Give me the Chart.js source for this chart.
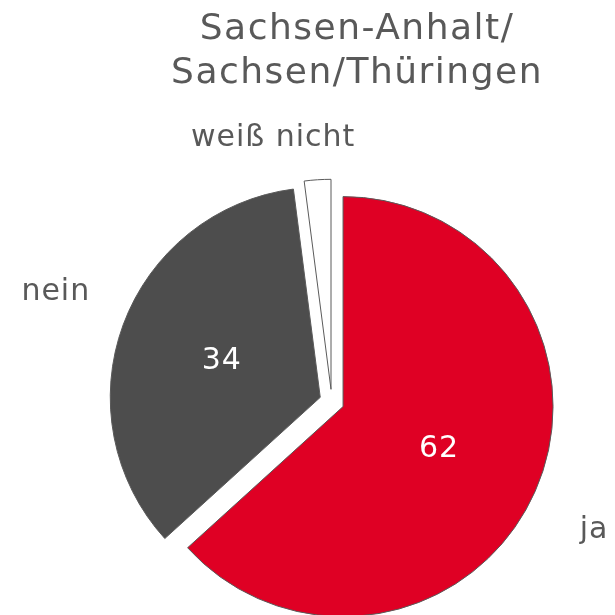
<!DOCTYPE html>
<html>
<head>
<meta charset="utf-8">
<script src="https://cdn.jsdelivr.net/npm/chart.js"></script>
<style>
    html, body { margin: 0; padding: 0; background: #ffffff; }
    #pieChart { display: block; }
</style>
</head>
<body>
<canvas id="pieChart" width="615" height="615"></canvas>
<script>
// Chart data
const titleLines = ['Sachsen-Anhalt/', 'Sachsen/Thüringen'];
const categories = ['ja', 'nein', 'weiß nicht'];
const values = [62, 34, 2];
const valueLabels = ['62', '34', ''];

// Styling
const sliceColors = ['#df0024', '#4d4d4d', '#ffffff'];
const sliceBorder = '#5a5a5a';
const textColor = '#595959';
const fontFamily = '"DejaVu Sans", Verdana, sans-serif';
const explodeDistance = 12.3;

// Where the category names sit: distance in radii, turn in degrees off the slice middle
const outerLabelPlacement = [
    { dist: 1.333, turn: 2.4 },
    { dist: 1.355, turn: 1.45 },
    { dist: 1.227, turn: -9.3 }
];

// Pull every slice out of the centre along its middle angle
const explodePlugin = {
    id: 'explode',
    afterDatasetUpdate(chart, args) {
        args.meta.data.forEach(arc => {
            const mid = (arc.startAngle + arc.endAngle) / 2;
            arc.x += Math.cos(mid) * explodeDistance;
            arc.y += Math.sin(mid) * explodeDistance;
        });
    }
};

// Values inside the slices, names outside, title on top
const labelPlugin = {
    id: 'sliceLabels',
    afterDatasetsDraw(chart) {
        const ctx = chart.ctx;
        const meta = chart.getDatasetMeta(0);
        ctx.save();
        ctx.textAlign = 'center';
        ctx.textBaseline = 'middle';

        meta.data.forEach((arc, i) => {
            const mid = (arc.startAngle + arc.endAngle) / 2;
            const r = arc.outerRadius;

            if (valueLabels[i]) {
                ctx.font = '30px ' + fontFamily;
                ctx.letterSpacing = '1px';
                ctx.fillStyle = '#ffffff';
                ctx.fillText(valueLabels[i], arc.x + Math.cos(mid) * r / 2, arc.y + Math.sin(mid) * r / 2);
            }

            const place = outerLabelPlacement[i];
            const a = mid + place.turn * Math.PI / 180;
            ctx.font = '30px ' + fontFamily;
            ctx.letterSpacing = '1px';
            ctx.fillStyle = textColor;
            ctx.fillText(categories[i], arc.x + Math.cos(a) * r * place.dist, arc.y + Math.sin(a) * r * place.dist);
        });

        ctx.font = '36px ' + fontFamily;
        ctx.letterSpacing = '1.5px';
        ctx.textBaseline = 'alphabetic';
        ctx.fillStyle = textColor;
        titleLines.forEach((line, i) => {
            ctx.fillText(line, 357, 39 + i * 44);
        });
        ctx.restore();
    }
};

const ctx = document.getElementById('pieChart').getContext('2d');
const pieChart = new Chart(ctx, {
    type: 'pie',
    data: {
        labels: categories,
        datasets: [{
            data: values,
            backgroundColor: sliceColors,
            borderColor: sliceBorder,
            borderWidth: 1,
            clip: false
        }]
    },
    options: {
        responsive: false,
        animation: false,
        radius: 210,
        layout: {
            padding: { top: 188.2, left: 48.6, right: 0, bottom: 0 }
        },
        plugins: {
            legend: { display: false },
            title: { display: false },
            tooltip: { enabled: false }
        }
    },
    plugins: [explodePlugin, labelPlugin]
});
</script>
</body>
</html>
